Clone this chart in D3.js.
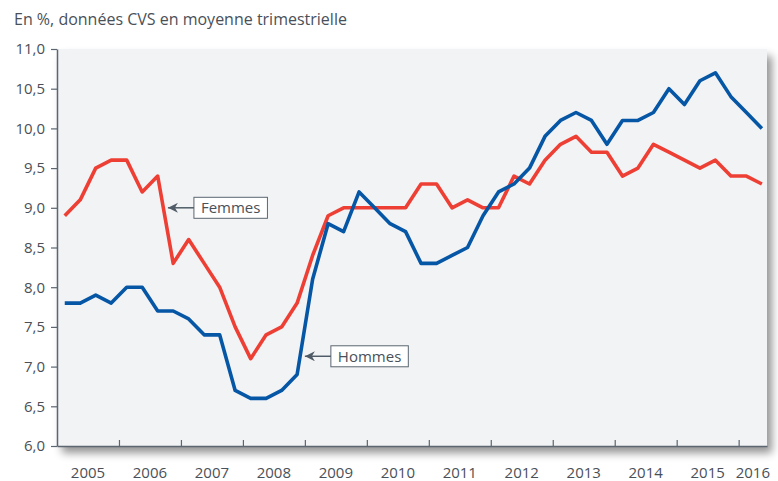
<!DOCTYPE html>
<html><head><meta charset="utf-8">
<script src="https://cdn.jsdelivr.net/npm/d3@7"></script>
<style>
html,body{margin:0;padding:0;background:#fff;}
svg{display:block;font-family:"Open Sans","Noto Sans",sans-serif;}
</style></head>
<body><svg id="c" width="778" height="481"></svg>
<script>
const quarters = ["2005T1","2005T2","2005T3","2005T4","2006T1","2006T2","2006T3","2006T4",
"2007T1","2007T2","2007T3","2007T4","2008T1","2008T2","2008T3","2008T4",
"2009T1","2009T2","2009T3","2009T4","2010T1","2010T2","2010T3","2010T4",
"2011T1","2011T2","2011T3","2011T4","2012T1","2012T2","2012T3","2012T4",
"2013T1","2013T2","2013T3","2013T4","2014T1","2014T2","2014T3","2014T4",
"2015T1","2015T2","2015T3","2015T4","2016T1","2016T2"];
const femmes = [8.9,9.1,9.5,9.6,9.6,9.2,9.4,8.3,8.6,8.3,8.0,7.5,7.1,7.4,7.5,7.8,
8.4,8.9,9.0,9.0,9.0,9.0,9.0,9.3,9.3,9.0,9.1,9.0,9.0,9.4,9.3,9.6,
9.8,9.9,9.7,9.7,9.4,9.5,9.8,9.7,9.6,9.5,9.6,9.4,9.4,9.3];
const hommes = [7.8,7.8,7.9,7.8,8.0,8.0,7.7,7.7,7.6,7.4,7.4,6.7,6.6,6.6,6.7,6.9,
8.1,8.8,8.7,9.2,9.0,8.8,8.7,8.3,8.3,8.4,8.5,8.9,9.2,9.3,9.5,9.9,
10.1,10.2,10.1,9.8,10.1,10.1,10.2,10.5,10.3,10.6,10.7,10.4,10.2,10.0];
const years = [2005,2006,2007,2008,2009,2010,2011,2012,2013,2014,2015,2016];
const yTicks = [6,6.5,7,7.5,8,8.5,9,9.5,10,10.5,11];
const title = "En %, données CVS en moyenne trimestrielle";
const annotations = [
  {label:"Femmes", t:2006.79, v:9.0},
  {label:"Hommes", t:2009.0, v:7.13}
];

const svg = d3.select("#c");
const L=57, R=767, T=49, B=446;
const tOf = q => +q.slice(0,4) + (+q.slice(5)-0.5)/4;
const x = d3.scaleLinear().domain([2005, 2016.4575]).range([L,R]);
const y = d3.scaleLinear().domain([6,11]).range([B,T]);

const defs = svg.append("defs");
const f = defs.append("filter").attr("id","sh").attr("x","-5%").attr("y","-5%").attr("width","115%").attr("height","125%");
f.append("feDropShadow").attr("dx",5).attr("dy",7).attr("stdDeviation",4.5).attr("flood-color","#000").attr("flood-opacity",0.42);
const ah = defs.append("marker").attr("id","ah").attr("viewBox","0 0 10 10").attr("refX",10).attr("refY",5)
  .attr("markerWidth",10).attr("markerHeight",10).attr("markerUnits","userSpaceOnUse").attr("orient","auto");
ah.append("path").attr("d","M0,0 L10,5 L0,10 L3,5 Z").attr("fill","#4f5b66");

svg.append("text").attr("x",14).attr("y",25).attr("fill","#4a5058").attr("font-size",16).text(title);

svg.append("rect").attr("x",L).attr("y",T).attr("width",R-L).attr("height",B-T)
  .attr("fill","#f2f3f5").attr("filter","url(#sh)");

const axisCol="#5b6670";
const ya = svg.append("g").attr("transform",`translate(${L},0)`)
  .call(d3.axisLeft(y).tickValues(yTicks).tickSize(6).tickSizeOuter(0).tickPadding(6)
    .tickFormat(d=>d3.format(".1f")(d).replace(".",",")));
ya.select(".domain").attr("stroke",axisCol).attr("stroke-width",1.5);
ya.selectAll(".tick line").attr("stroke",axisCol).attr("stroke-width",1.2);
ya.selectAll(".tick text").attr("fill","#4a5058").attr("font-size",15).attr("font-family","'Open Sans',sans-serif");

const xa = svg.append("g").attr("transform",`translate(0,${B})`)
  .call(d3.axisBottom(x).tickValues(years.slice(1)).tickSize(-6).tickSizeOuter(0).tickFormat(""));
xa.select(".domain").attr("stroke",axisCol).attr("stroke-width",1.5);
xa.selectAll(".tick line").attr("stroke",axisCol).attr("stroke-width",1.2);

const [d0,d1]=x.domain();
svg.append("g").selectAll("text").data(years).join("text")
  .attr("x",d=>x((Math.max(d,d0)+Math.min(d+1,d1))/2))
  .attr("y",478).attr("text-anchor","middle").attr("fill","#4a5058").attr("font-size",15)
  .text(d=>d);

const line = d3.line().x((d,i)=>x(tOf(quarters[i]))).y(d=>y(d));
svg.append("path").datum(femmes).attr("d",line).attr("fill","none").attr("stroke","#ee3f35")
  .attr("stroke-width",3.6).attr("stroke-linejoin","round");
svg.append("path").datum(hommes).attr("d",line).attr("fill","none").attr("stroke","#0656a6")
  .attr("stroke-width",3.6).attr("stroke-linejoin","round");

annotations.forEach(a=>{
  const tx=x(a.t), ty=y(a.v);
  const g=svg.append("g");
  const bx=tx+26;
  const txt=g.append("text").attr("x",bx+7).attr("y",ty+5.5).attr("font-size",15).attr("fill","#4a5058").text(a.label);
  const w=txt.node().getComputedTextLength();
  g.insert("rect","text").attr("x",bx).attr("y",ty-10.5).attr("width",w+14).attr("height",21)
    .attr("fill","#fff").attr("stroke","#5b6670").attr("stroke-width",1);
  g.append("line").attr("x1",bx).attr("y1",ty).attr("x2",tx).attr("y2",ty)
    .attr("stroke","#4f5b66").attr("stroke-width",1.5).attr("marker-end","url(#ah)");
});
</script></body></html>
